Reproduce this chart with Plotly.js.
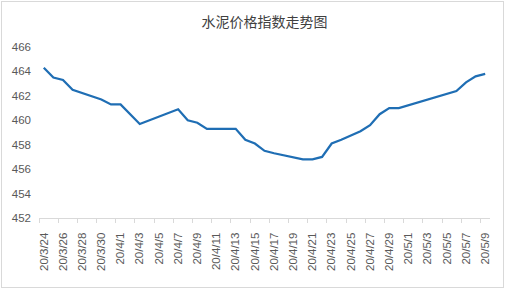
<!DOCTYPE html>
<html><head><meta charset="utf-8">
<script src="https://cdn.plot.ly/plotly-3.0.1.min.js"></script>
<style>
html,body{margin:0;padding:0;background:#fff;}
#wrap{position:absolute;left:1px;top:1px;width:501px;height:285px;border:1px solid #d9d9d9;}
#chart{width:501px;height:285px;}
</style></head>
<body><div id="wrap"><div id="chart"></div></div>
<script>
const titleText = '水泥价格指数走势图';
const dates = ['2020-03-24','2020-03-25','2020-03-26','2020-03-27','2020-03-30','2020-03-31',
  '2020-04-01','2020-04-02','2020-04-03','2020-04-07','2020-04-08','2020-04-09','2020-04-10',
  '2020-04-13','2020-04-14','2020-04-15','2020-04-16','2020-04-17','2020-04-20','2020-04-21',
  '2020-04-22','2020-04-23','2020-04-24','2020-04-26','2020-04-27','2020-04-28','2020-04-29',
  '2020-04-30','2020-05-06','2020-05-07','2020-05-08','2020-05-09'];
const values = [464.3,463.5,463.3,462.5,461.7,461.3,
  461.3,460.5,459.7,460.9,460.0,459.8,459.3,
  459.3,458.4,458.1,457.5,457.3,456.8,456.8,
  457.0,458.1,458.4,459.1,459.6,460.5,461.0,
  461.0,462.4,463.1,463.6,463.8];
const yTicks = [452,454,456,458,460,462,464,466];

const tickVals = [];
const tickText = [];
{
  let d = new Date(Date.UTC(2020,2,24));
  const end = new Date(Date.UTC(2020,4,9));
  while (d <= end) {
    tickVals.push(d.toISOString().slice(0,10));
    tickText.push('20/' + (d.getUTCMonth()+1) + '/' + d.getUTCDate());
    d = new Date(d.getTime() + 2*86400000);
  }
}

const trace = {
  x: dates, y: values, type: 'scatter', mode: 'lines',
  line: {color: '#1F6EB4', width: 2.25},
  hoverinfo: 'skip'
};
const yfont = {family: '"Liberation Sans", Arial, sans-serif', size: 11.5, color: '#595959'};
const xfont = {family: '"Liberation Sans", Arial, sans-serif', size: 11.5, color: '#595959'};
const layout = {
  width: 501, height: 285,
  margin: {l: 37, r: 13, t: 45, b: 69},
  paper_bgcolor: '#ffffff', plot_bgcolor: '#ffffff',
  showlegend: false,
  title: {text: titleText, x: 0.5, xanchor: 'center', y: 0.93, yanchor: 'middle',
    xref: 'paper',
    font: {family: '"Noto Sans CJK SC", sans-serif', size: 14, color: '#404040'}},
  xaxis: {
    type: 'date',
    range: ['2020-03-23 12:00', '2020-05-09 12:00'],
    tickmode: 'array', tickvals: tickVals, ticktext: tickText,
    tickangle: -90, ticks: '', tickfont: xfont,
    showgrid: false, zeroline: false,
    showline: true, linecolor: '#d9d9d9', linewidth: 1,
    minor: {tickmode: 'linear', tick0: '2020-03-23 12:00', dtick: 2*86400000,
      ticks: 'outside', ticklen: 4, tickcolor: '#d9d9d9', showgrid: false},
    ticklabelstandoff: 9
  },
  yaxis: {
    range: [452, 466], tickmode: 'array', tickvals: yTicks,
    ticks: '', tickfont: yfont, showgrid: false, zeroline: false, showline: false,
    ticklabelstandoff: 7
  }
};
Plotly.newPlot('chart', [trace], layout, {displayModeBar: false, staticPlot: true});
</script></body></html>
